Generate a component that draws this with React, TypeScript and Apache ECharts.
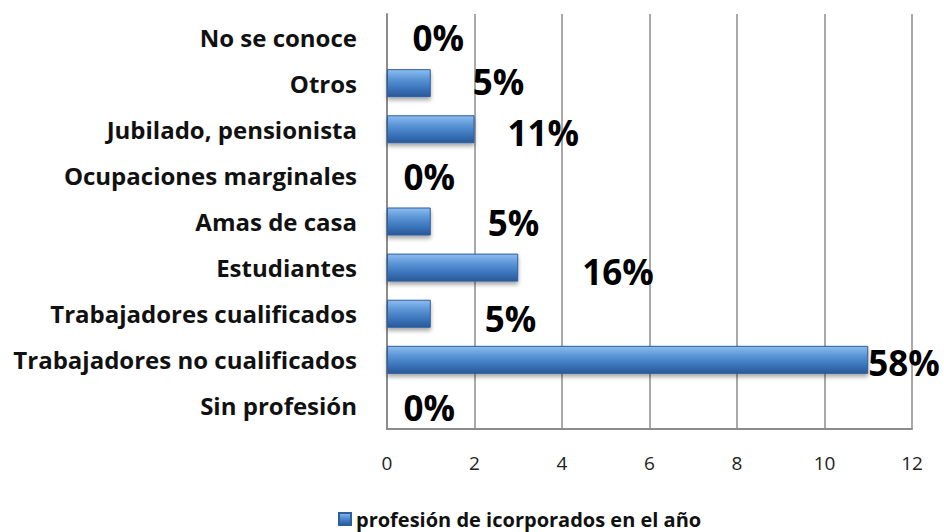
import React, { useEffect, useRef } from "react";
import * as echarts from "echarts";

const categories = [
  "Sin profesión",
  "Trabajadores no cualificados",
  "Trabajadores cualificados",
  "Estudiantes",
  "Amas de casa",
  "Ocupaciones marginales",
  "Jubilado, pensionista",
  "Otros",
  "No se conoce",
];
const values = [0, 11, 1, 3, 1, 0, 2, 1, 0];
const seriesName = "profesión de icorporados en el año";
const xTicks = { min: 0, max: 12, interval: 2 };

// label nudges (style only): [dx, dy] per bar
const labelNudge: [number, number][] = [
  [16, 2],
  [0, 3],
  [54, 5],
  [64, 4],
  [57, 1],
  [16, 1],
  [33, 3],
  [42, -2],
  [25, 0],
];

export default function App() {
  const ref = useRef<HTMLDivElement>(null);
  useEffect(() => {
    if (!ref.current) return;
    const chart = echarts.init(ref.current, null, { renderer: "svg" });
    const total = values.reduce((a, b) => a + b, 0);
    const barGrad = new echarts.graphic.LinearGradient(0, 0, 0, 1, [
      { offset: 0, color: "#8dbdf0" },
      { offset: 0.35, color: "#5b95d6" },
      { offset: 0.7, color: "#3a74bb" },
      { offset: 1, color: "#2a5896" },
    ]);
    chart.setOption({
      animation: false,
      backgroundColor: "#ffffff",
      grid: { left: 387, right: 32, top: 14, bottom: 103, containLabel: false },
      xAxis: {
        type: "value",
        min: xTicks.min,
        max: xTicks.max,
        interval: xTicks.interval,
        axisLine: { show: true, lineStyle: { color: "#8c8c8c", width: 2 } },
        axisTick: { show: false },
        axisLabel: {
          color: "#222",
          fontSize: 19,
          fontFamily: "Open Sans",
          margin: 24,
        },
        splitLine: { show: true, lineStyle: { color: "#8c8c8c", width: 1.5 } },
      },
      yAxis: {
        type: "category",
        data: categories,
        axisLine: { show: true, lineStyle: { color: "#8c8c8c", width: 2 } },
        axisTick: { show: false },
        axisLabel: {
          color: "#111",
          fontSize: 24,
          fontWeight: "bold",
          fontFamily: "Open Sans",
          margin: 30,
        },
      },
      legend: {
        show: true,
        left: 333,
        top: 504,
        itemWidth: 12,
        itemHeight: 12,
        itemGap: 4,
        textStyle: {
          color: "#111",
          fontSize: 20,
          fontWeight: "bold",
          fontFamily: "Open Sans",
        },
        data: [{ name: seriesName, icon: "rect" }],
      },
      series: [
        {
          name: seriesName,
          type: "bar",
          barWidth: 28,
          data: values.map((v, i) => ({
            value: v,
            label: {
              offset: labelNudge[i],
            },
          })),
          itemStyle: {
            color: barGrad,
            borderColor: "#2d5f9e",
            borderWidth: 1,
            shadowColor: "rgba(0,0,0,0.35)",
            shadowBlur: 4,
            shadowOffsetY: 3,
          },
          label: {
            show: true,
            position: "right",
            distance: 0,
            color: "#000",
            fontSize: 35,
            fontWeight: "bold",
            fontFamily: "Open Sans",
            formatter: (p: any) => Math.round((p.value / total) * 100) + "%",
          },
        },
      ],
    });
    return () => chart.dispose();
  }, []);
  return (
    <div
      ref={ref}
      style={{ position: "fixed", left: 0, top: 0, width: 944, height: 532 }}
    />
  );
}
